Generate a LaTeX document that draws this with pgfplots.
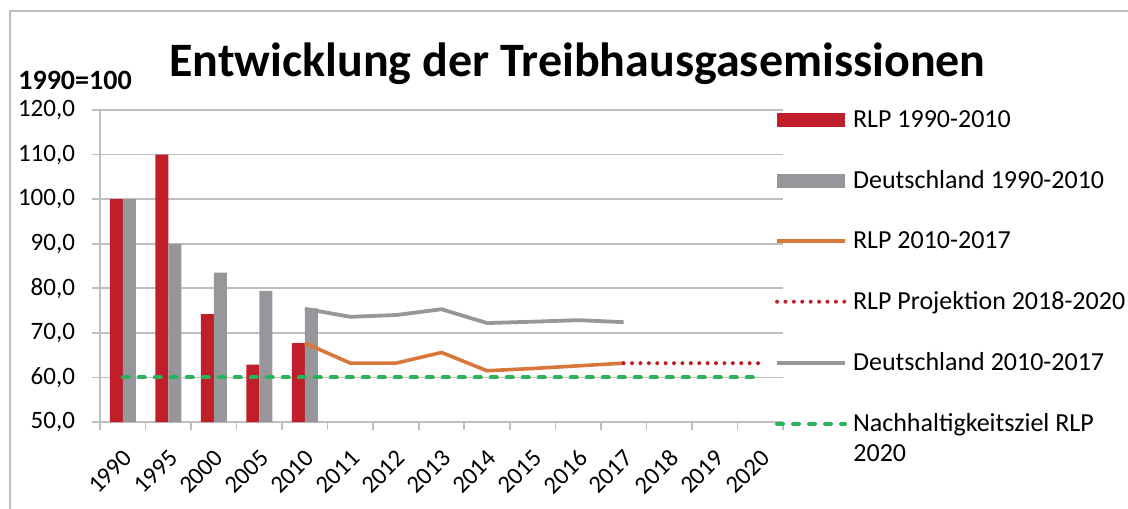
\documentclass[border=0pt]{standalone}
\usepackage{fontspec}
\setmainfont{Carlito}
\usepackage{pgfplots}
\pgfplotsset{compat=1.18}

\definecolor{rlpred}{RGB}{192,30,40}
\definecolor{degray}{RGB}{150,150,155}
\definecolor{rlporange}{RGB}{217,118,58}
\definecolor{zielgreen}{RGB}{40,180,90}
\definecolor{gridgray}{RGB}{190,190,190}

\begin{document}
\begin{tikzpicture}
\useasboundingbox (-50pt,-43pt) rectangle (514pt,211pt);
\draw[gridgray,line width=0.8pt] (-45pt,-50pt) -- (-45pt,205.5pt) -- (530pt,205.5pt);

\begin{axis}[
  at={(0pt,0pt)}, anchor=south west,
  scale only axis,
  width=341.5pt, height=156pt,
  xmin=-0.5, xmax=14.5,
  ymin=50, ymax=120,
  ytick={50,60,...,120},
  xtick={0,...,14},
  xticklabels={1990,1995,2000,2005,2010,2011,2012,2013,2014,2015,2016,2017,2018,2019,2020},
  minor xtick={-0.5,0.5,...,14.5},
  axis x line*=bottom, axis y line*=left,
  axis line style={gridgray,line width=0.8pt,-},
  tick align=outside,
  major tick length=4pt, minor tick length=4pt,
  major x tick style={draw=none},
  minor x tick style={gridgray,line width=0.8pt},
  ytick style={gridgray,line width=0.8pt},
  ymajorgrids,
  grid style={gridgray,line width=0.8pt},
  clip=false,
  yticklabel style={font=\fontsize{12.5}{14}\selectfont, anchor=east, xshift=-5pt,
    /pgf/number format/.cd, fixed, fixed zerofill, precision=1, use comma, assume math mode=true},
  xticklabel style={font=\fontsize{12.3}{14}\selectfont, xshift=5pt, yshift=-9.5pt, rotate=45, anchor=east},
  legend cell align=left,
  legend style={draw=none, fill=none, at={(0.979,1.0256)}, anchor=north west,
    font=\fontsize{13}{15}\selectfont, row sep=16pt, nodes={inner sep=2pt},
    /tikz/every odd column/.append style={column sep=1pt}},
  legend image code/.code={\draw[#1] (0pt,0pt) -- (34pt,0pt);},
]
\addplot[ybar, bar width=0.2855, bar shift=-0.14275, fill=rlpred, draw=none,
  legend image code/.code={\fill[rlpred] (0pt,-3.5pt) rectangle (34pt,3.5pt);}]
  coordinates {(0,100) (1,110) (2,74.2) (3,62.9) (4,67.7)};
\addlegendentry{RLP 1990-2010}
\addplot[ybar, bar width=0.2855, bar shift=0.14275, fill=degray, draw=none,
  legend image code/.code={\fill[degray] (0pt,-3.5pt) rectangle (34pt,3.5pt);}]
  coordinates {(0,100) (1,89.9) (2,83.5) (3,79.4) (4,75.5)};
\addlegendentry{Deutschland 1990-2010}
\addplot[rlporange, line width=1.8pt]
  coordinates {(4,67.7) (5,63.2) (6,63.2) (7,65.6) (8,61.5) (9,62.0) (10,62.6) (11,63.2)};
\addlegendentry{RLP 2010-2017}
\addplot[rlpred, line width=2pt, line cap=round, dash pattern=on 0pt off 4.2pt]
  coordinates {(11,63.2) (12,63.2) (13,63.2) (14,63.2)};
\addlegendentry{RLP Projektion 2018-2020}
\addplot[degray, line width=1.9pt]
  coordinates {(4,75.4) (5,73.6) (6,74.0) (7,75.3) (8,72.2) (9,72.5) (10,72.85) (11,72.4)};
\addlegendentry{Deutschland 2010-2017}
\addplot[zielgreen, line width=2pt, line cap=round, dash pattern=on 3pt off 5pt]
  coordinates {(0,60) (1,60) (2,60) (3,60) (4,60) (5,60) (6,60) (7,60) (8,60) (9,60) (10,60) (11,60) (12,60) (13,60) (14,60)};
\addlegendentry{Nachhaltigkeitsziel RLP}
\end{axis}

\node[anchor=base west, inner sep=0pt, font=\fontsize{13}{15}\selectfont] at (376.5pt,-19.5pt) {2020};
\node[anchor=base, inner sep=0pt, font=\fontsize{24}{28}\bfseries] at (238.75pt,172.5pt) {Entwicklung der Treibhausgasemissionen};
\node[anchor=base west, inner sep=0pt, font=\fontsize{14}{16}\bfseries] at (-41pt,166pt) {1990=100};
\end{tikzpicture}
\end{document}
